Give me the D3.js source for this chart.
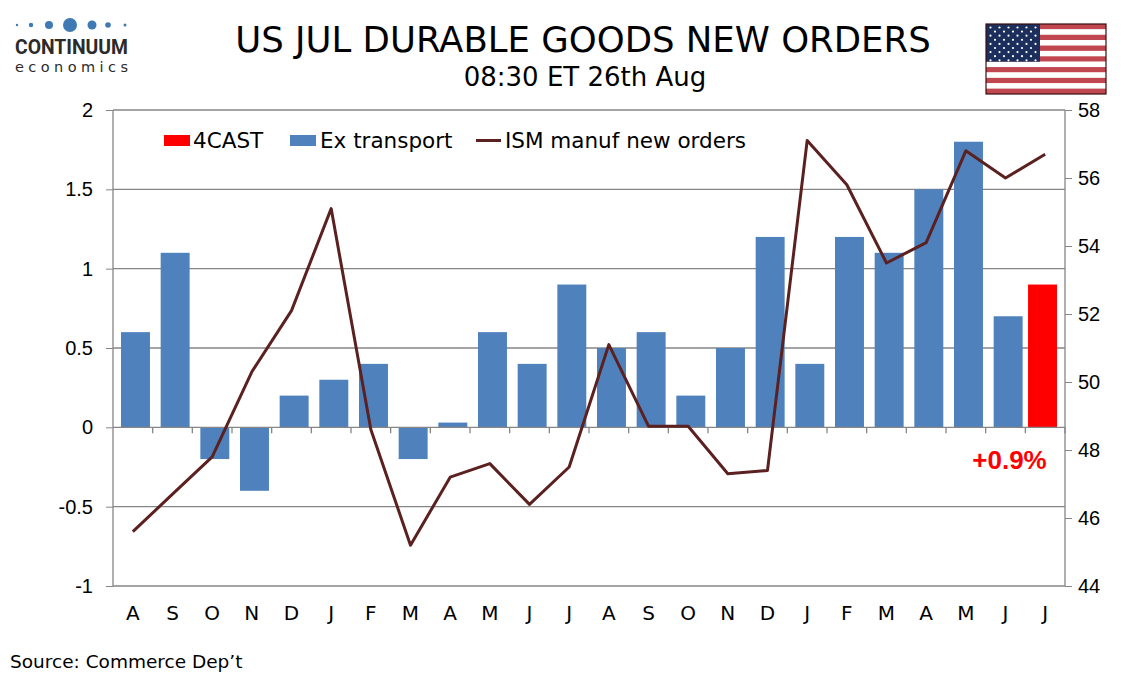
<!DOCTYPE html>
<html>
<head>
<meta charset="utf-8">
<script src="https://cdn.jsdelivr.net/npm/d3@7"></script>
<style>
  body { margin: 0; background: #fff; }
  svg { display: block; font-family: 'DejaVu Sans', Verdana, sans-serif; }
  .axis path, .axis line { stroke: #868686; }
  .axis text { font-size: 20px; fill: #000; }
</style>
</head>
<body>
<div id="container"></div>
<script>
// --- Data ---
const months = ['A', 'S', 'O', 'N', 'D', 'J', 'F', 'M', 'A', 'M', 'J', 'J',
                'A', 'S', 'O', 'N', 'D', 'J', 'F', 'M', 'A', 'M', 'J', 'J'];
const exTransport = [0.6, 1.1, -0.2, -0.4, 0.2, 0.3, 0.4, -0.2, 0.03, 0.6, 0.4, 0.9,
                     0.5, 0.6, 0.2, 0.5, 1.2, 0.4, 1.2, 1.1, 1.5, 1.8, 0.7, null];
const forecast = [null, null, null, null, null, null, null, null, null, null, null, null,
                  null, null, null, null, null, null, null, null, null, null, null, 0.9];
const ismNewOrders = [45.6, 46.7, 47.8, 50.3, 52.1, 55.1, 48.6, 45.2, 47.2, 47.6, 46.4, 47.5,
                      51.1, 48.7, 48.7, 47.3, 47.4, 57.1, 55.8, 53.5, 54.1, 56.8, 56.0, 56.7];
const leftTicks = [-1, -0.5, 0, 0.5, 1, 1.5, 2];
const rightTicks = [44, 46, 48, 50, 52, 54, 56, 58];
const barSeries = ['forecast', 'exTransport'];

const width = 1134;
const height = 680;
const margin = { top: 110, right: 69, bottom: 94, left: 113 };

const svg = d3.select('#container').append('svg')
  .attr('width', width)
  .attr('height', height);

const x = d3.scaleBand()
  .domain(d3.range(months.length))
  .range([margin.left, width - margin.right])
  .paddingInner(0.27)
  .paddingOuter(0.135);

// clustered (heavily overlapped) bar slots, as in the original spreadsheet chart
const slot = d3.scalePoint().domain(barSeries).range([-2.65, 2.65]);

const y = d3.scaleLinear().domain([-1, 2]).range([height - margin.bottom, margin.top]);
const y2 = d3.scaleLinear().domain([44, 58]).range([height - margin.bottom, margin.top]);

const plotRight = width - margin.right;
const step = (plotRight - margin.left) / months.length;

// gridlines
svg.append('g')
  .selectAll('line')
  .data(leftTicks.filter((t) => t !== 0 && t !== -1))
  .join('line')
  .attr('x1', margin.left)
  .attr('x2', plotRight)
  .attr('y1', (d) => y(d))
  .attr('y2', (d) => y(d))
  .attr('stroke', '#868686')
  .attr('stroke-width', 1.3);

// bars
function drawBars(values, key, colour) {
  svg.append('g')
    .selectAll('rect')
    .data(values.map((v, i) => ({ i, v })).filter((d) => d.v !== null))
    .join('rect')
    .attr('x', (d) => x(d.i) + slot(key))
    .attr('width', x.bandwidth())
    .attr('y', (d) => y(Math.max(0, d.v)))
    .attr('height', (d) => Math.abs(y(d.v) - y(0)))
    .attr('fill', colour);
}
drawBars(exTransport, 'exTransport', '#4f81bd');
drawBars(forecast, 'forecast', '#ff0000');

// zero line with category ticks
svg.append('line')
  .attr('x1', margin.left).attr('x2', plotRight)
  .attr('y1', y(0)).attr('y2', y(0))
  .attr('stroke', '#868686').attr('stroke-width', 1.3);

svg.append('g')
  .selectAll('line')
  .data(d3.range(1, months.length + 1))
  .join('line')
  .attr('x1', (d) => margin.left + d * step)
  .attr('x2', (d) => margin.left + d * step)
  .attr('y1', y(0))
  .attr('y2', y(0) + 6)
  .attr('stroke', '#868686')
  .attr('stroke-width', 1.3);

// bottom frame line
svg.append('line')
  .attr('x1', margin.left).attr('x2', plotRight)
  .attr('y1', y(-1)).attr('y2', y(-1))
  .attr('stroke', '#868686').attr('stroke-width', 1.3);

// ISM line
const line = d3.line()
  .x((d, i) => x(i) + x.bandwidth() / 2)
  .y((d) => y2(d));

svg.append('path')
  .datum(ismNewOrders)
  .attr('d', line)
  .attr('fill', 'none')
  .attr('stroke', '#5b2020')
  .attr('stroke-width', 3)
  .attr('stroke-linejoin', 'round');

// left axis
const yAxis = d3.axisLeft(y)
  .tickValues(leftTicks)
  .tickFormat((d) => String(d))
  .tickSize(7)
  .tickPadding(13);
svg.append('g')
  .attr('class', 'axis')
  .attr('transform', `translate(${margin.left},0)`)
  .call(yAxis)
  .call((g) => g.select('.domain').attr('d', `M0,${y(-1)}V${y(2)}`).attr('stroke-width', 1.3));

// right axis
const y2Axis = d3.axisRight(y2)
  .tickValues(rightTicks)
  .tickSize(7)
  .tickPadding(6);
svg.append('g')
  .attr('class', 'axis')
  .attr('transform', `translate(${plotRight},0)`)
  .call(y2Axis)
  .call((g) => g.select('.domain').attr('d', `M0,${y2(44)}V${y2(58)}`).attr('stroke-width', 1.3));

// category labels
svg.append('g')
  .selectAll('text')
  .data(months)
  .join('text')
  .attr('x', (d, i) => x(i) + x.bandwidth() / 2)
  .attr('y', 620)
  .attr('text-anchor', 'middle')
  .attr('font-size', 20)
  .text((d) => d);

// legend
const legend = svg.append('g').attr('font-size', 21.5);
legend.append('rect').attr('x', 164).attr('y', 135).attr('width', 26).attr('height', 11).attr('fill', '#ff0000');
legend.append('text').attr('x', 193).attr('y', 148).text('4CAST');
legend.append('rect').attr('x', 290).attr('y', 135).attr('width', 26).attr('height', 11).attr('fill', '#4f81bd');
legend.append('text').attr('x', 320).attr('y', 148).text('Ex transport');
legend.append('line').attr('x1', 476).attr('x2', 501).attr('y1', 140.5).attr('y2', 140.5)
  .attr('stroke', '#5b2020').attr('stroke-width', 3);
legend.append('text').attr('x', 505).attr('y', 148).text('ISM manuf new orders');

// forecast annotation
svg.append('text')
  .attr('x', 1009.5)
  .attr('y', 469)
  .attr('text-anchor', 'middle')
  .attr('font-size', 26)
  .attr('font-weight', 'bold')
  .attr('font-family', 'Liberation Sans, Arial, sans-serif')
  .attr('fill', '#ff0000')
  .text('+0.9%');

// titles
svg.append('text')
  .attr('x', 583).attr('y', 52)
  .attr('text-anchor', 'middle')
  .attr('font-size', 35.5)
  .text('US JUL DURABLE GOODS NEW ORDERS');
svg.append('text')
  .attr('x', 585).attr('y', 86)
  .attr('text-anchor', 'middle')
  .attr('font-size', 26)
  .text('08:30 ET 26th Aug');

// source
svg.append('text')
  .attr('x', 10).attr('y', 668)
  .attr('font-size', 18.5)
  .text('Source: Commerce Dep\u2019t');

// logo
const logo = svg.append('g');
const dotR = [1.2, 2.2, 4, 7, 4.5, 2.8, 1.5];
const dotX = [17, 31, 49, 70, 92, 108, 125];
logo.selectAll('circle')
  .data(dotR)
  .join('circle')
  .attr('cx', (d, i) => dotX[i])
  .attr('cy', 25)
  .attr('r', (d) => d)
  .attr('fill', '#3f7ab4');
logo.append('text')
  .attr('x', 15).attr('y', 54)
  .attr('font-size', 20)
  .attr('font-weight', 'bold')
  .attr('font-family', 'Liberation Sans Narrow, Roboto, sans-serif')
  .attr('textLength', 113)
  .attr('lengthAdjust', 'spacingAndGlyphs')
  .attr('fill', '#2b2b2b')
  .text('CONTINUUM');
logo.append('text')
  .attr('x', 15).attr('y', 72)
  .attr('font-size', 14.5)
  .attr('textLength', 113)
  .attr('fill', '#2b2b2b')
  .text('economics');

// flag
const flag = svg.append('g').attr('transform', 'translate(986,24)');
const fw = 120, fh = 70, sh = fh / 13;
flag.selectAll('rect.stripe')
  .data(d3.range(13))
  .join('rect')
  .attr('class', 'stripe')
  .attr('x', 0).attr('y', (d) => d * sh)
  .attr('width', fw).attr('height', sh)
  .attr('fill', (d) => (d % 2 === 0 ? '#c0474f' : '#ffffff'));
flag.append('rect').attr('width', 54).attr('height', sh * 7).attr('fill', '#1b2e5c');
const stars = [];
for (let r = 0; r < 9; r++) {
  const n = r % 2 === 0 ? 6 : 5;
  for (let c = 0; c < n; c++) {
    stars.push([(r % 2 === 0 ? 4.5 : 9) + c * 9, 3.5 + r * 4.1]);
  }
}
flag.selectAll('circle')
  .data(stars)
  .join('circle')
  .attr('cx', (d) => d[0]).attr('cy', (d) => d[1])
  .attr('r', 1.1).attr('fill', '#fff');
flag.append('rect').attr('width', fw).attr('height', fh)
  .attr('fill', 'none').attr('stroke', '#3a1010').attr('stroke-width', 1.2);
</script>
</body>
</html>
